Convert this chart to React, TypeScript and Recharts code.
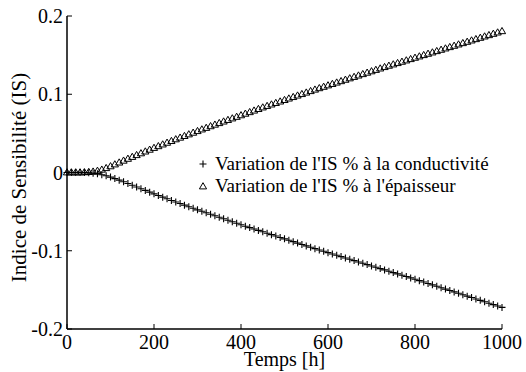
import React from "react";
import { Legend, Scatter, ScatterChart, XAxis, YAxis } from "recharts";

// temps [h], one sample every 10 h
const hours = [
  0, 10, 20, 30, 40, 50, 60, 70, 80, 90,
  100, 110, 120, 130, 140, 150, 160, 170, 180, 190,
  200, 210, 220, 230, 240, 250, 260, 270, 280, 290,
  300, 310, 320, 330, 340, 350, 360, 370, 380, 390,
  400, 410, 420, 430, 440, 450, 460, 470, 480, 490,
  500, 510, 520, 530, 540, 550, 560, 570, 580, 590,
  600, 610, 620, 630, 640, 650, 660, 670, 680, 690,
  700, 710, 720, 730, 740, 750, 760, 770, 780, 790,
  800, 810, 820, 830, 840, 850, 860, 870, 880, 890,
  900, 910, 920, 930, 940, 950, 960, 970, 980, 990,
  1000,
];

// IS vs conductivité (+)
const isConductivite = [
  0, 0, 0, 0, 0, -0.0004, -0.0009, -0.0017, -0.0028, -0.0042,
  -0.0059, -0.0078, -0.0098, -0.0119, -0.0141, -0.0163, -0.0185, -0.0207, -0.0229, -0.0251,
  -0.0273, -0.0294, -0.0315, -0.0336, -0.0357, -0.0377, -0.0397, -0.0417, -0.0437, -0.0457,
  -0.0477, -0.0496, -0.0515, -0.0534, -0.0553, -0.0572, -0.0591, -0.061, -0.0629, -0.0648,
  -0.0667, -0.0686, -0.0704, -0.0722, -0.074, -0.0758, -0.0776, -0.0794, -0.0812, -0.083,
  -0.0848, -0.0866, -0.0884, -0.0902, -0.092, -0.0938, -0.0956, -0.0973, -0.099, -0.1007,
  -0.1024, -0.1041, -0.1058, -0.1075, -0.1092, -0.1109, -0.1126, -0.1143, -0.116, -0.1177,
  -0.1194, -0.1211, -0.1228, -0.1245, -0.1262, -0.1279, -0.1296, -0.1313, -0.133, -0.1347,
  -0.1364, -0.1382, -0.14, -0.1418, -0.1436, -0.1454, -0.1472, -0.149, -0.1508, -0.1526,
  -0.1544, -0.1562, -0.158, -0.1598, -0.1616, -0.1634, -0.1652, -0.167, -0.1688, -0.1706,
  -0.1724,
];

// IS vs épaisseur (triangle)
const isEpaisseur = [
  0, 0, 0, 0, 0.0002, 0.0005, 0.001, 0.002, 0.0035, 0.0055,
  0.0078, 0.0102, 0.0126, 0.015, 0.0174, 0.0198, 0.0221, 0.0244, 0.0267, 0.029,
  0.0313, 0.0335, 0.0357, 0.0379, 0.0401, 0.0423, 0.0444, 0.0465, 0.0486, 0.0507,
  0.0528, 0.0549, 0.0569, 0.059, 0.061, 0.063, 0.065, 0.067, 0.069, 0.071,
  0.073, 0.075, 0.077, 0.079, 0.081, 0.083, 0.0849, 0.0868, 0.0887, 0.0906,
  0.0925, 0.0944, 0.0963, 0.0982, 0.1001, 0.102, 0.1039, 0.1058, 0.1076, 0.1094,
  0.1112, 0.113, 0.1148, 0.1166, 0.1184, 0.1202, 0.122, 0.1238, 0.1256, 0.1274,
  0.1292, 0.131, 0.1328, 0.1346, 0.1363, 0.138, 0.1397, 0.1414, 0.1431, 0.1448,
  0.1465, 0.1482, 0.1499, 0.1516, 0.1533, 0.155, 0.1567, 0.1584, 0.1601, 0.1618,
  0.1635, 0.1652, 0.1669, 0.1686, 0.1703, 0.172, 0.1737, 0.1754, 0.1771, 0.1788,
  0.1805,
];

const xTicks = [0, 200, 400, 600, 800, 1000];
const yTicks = [-0.2, -0.1, 0, 0.1, 0.2];
const seriesNames = [
  "Variation de l'IS % à la conductivité",
  "Variation de l'IS % à l'épaisseur",
];

const conductData = hours.map((t, i) => ({ t, v: isConductivite[i] }));
const epaisseurData = hours.map((t, i) => ({ t, v: isEpaisseur[i] }));

const FONT = "'Liberation Serif', 'Times New Roman', serif";
const axisStyle = { stroke: "#000", strokeWidth: 1.5 };
const tickStyle = { fill: "#000", fontSize: 20, fontFamily: FONT, style: { fontFamily: FONT } };

const PlusMark = ({ cx, cy }: any) => (
  <path
    d={`M${cx - 3.5},${cy}H${cx + 3.5}M${cx},${cy - 3.5}V${cy + 3.5}`}
    stroke="#000"
    strokeWidth={1.1}
    fill="none"
  />
);

const TriangleMark = ({ cx, cy }: any) => (
  <path
    d={`M${cx},${cy - 3.8}L${cx + 3.6},${cy + 2.4}L${cx - 3.6},${cy + 2.4}Z`}
    stroke="#000"
    strokeWidth={1}
    fill="none"
  />
);

const XTitle = ({ viewBox }: any) => (
  <text
    x={viewBox.x + viewBox.width / 2}
    y={viewBox.y + 37}
    textAnchor="middle"
    fontSize={20}
    fill="#000"
    style={{ fontFamily: FONT }}
  >
    Temps [h]
  </text>
);

const YTitle = ({ viewBox }: any) => {
  const x = viewBox.x + 26;
  const y = viewBox.y + viewBox.height / 2 + 5;
  return (
    <text
      x={x}
      y={y}
      transform={`rotate(-90, ${x}, ${y})`}
      textAnchor="middle"
      fontSize={21}
      fill="#000"
      style={{ fontFamily: FONT }}
    >
      Indice de Sensibilité (IS)
    </text>
  );
};

const renderLegend = () => (
  <div style={{ fontFamily: FONT, fontSize: 19, color: "#000", lineHeight: "22px" }}>
    {seriesNames.map((name, i) => (
      <div key={name} style={{ display: "flex", alignItems: "center", whiteSpace: "nowrap" }}>
        <svg width={10} height={10} style={{ marginRight: 7 }}>
          {i === 0 ? <PlusMark cx={5} cy={5} /> : <TriangleMark cx={5} cy={5.5} />}
        </svg>
        <span>{name}</span>
      </div>
    ))}
  </div>
);

export default function App() {
  return (
    <div style={{ position: "absolute", left: 0, top: 0, background: "#fff", fontFamily: FONT }}>
      <ScatterChart width={526} height={372} margin={{ top: 16, right: 24, left: 0, bottom: 0 }}>
        <XAxis
          dataKey="t"
          type="number"
          domain={[0, 1000]}
          ticks={xTicks}
          interval={0}
          height={43}
          tickSize={-5}
          tickMargin={11}
          axisLine={axisStyle}
          tickLine={{ stroke: "#000" }}
          tick={tickStyle}
          label={<XTitle />}
        />
        <XAxis
          xAxisId="top"
          orientation="top"
          type="number"
          domain={[0, 1000]}
          ticks={xTicks}
          interval={0}
          height={0}
          tickSize={-5}
          axisLine={axisStyle}
          tickLine={{ stroke: "#000" }}
          tick={false}
          allowDataOverflow
        />
        <YAxis
          dataKey="v"
          type="number"
          domain={[-0.2, 0.2]}
          ticks={yTicks}
          interval={0}
          width={67}
          tickSize={-5}
          tickMargin={9}
          axisLine={axisStyle}
          tickLine={{ stroke: "#000" }}
          tick={tickStyle}
          label={<YTitle />}
        />
        <YAxis
          yAxisId="right"
          orientation="right"
          type="number"
          domain={[-0.2, 0.2]}
          ticks={yTicks}
          interval={0}
          width={0}
          tickSize={-5}
          axisLine={axisStyle}
          tickLine={{ stroke: "#000" }}
          tick={false}
          allowDataOverflow
        />
        <Scatter
          name={seriesNames[0]}
          data={conductData}
          shape={<PlusMark />}
          isAnimationActive={false}
        />
        <Scatter
          name={seriesNames[1]}
          data={epaisseurData}
          shape={<TriangleMark />}
          isAnimationActive={false}
        />
        <Legend
          layout="vertical"
          align="center"
          verticalAlign="middle"
          content={renderLegend}
          wrapperStyle={{ left: 198, top: 153, width: 320 }}
        />
      </ScatterChart>
    </div>
  );
}
